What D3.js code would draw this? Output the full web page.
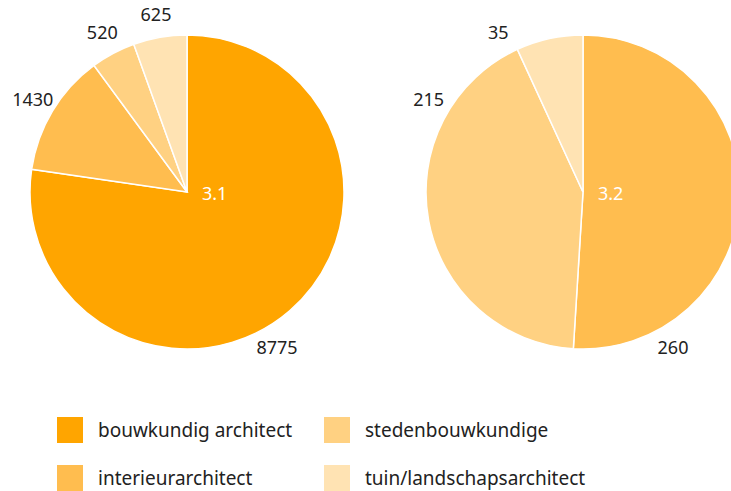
<!DOCTYPE html>
<html>
<head>
<meta charset="utf-8">
<script src="https://cdn.jsdelivr.net/npm/d3@7"></script>
<style>
  body { margin: 0; background: #fff; }
  svg { display: block; font-family: "Source Sans Pro", "Noto Sans", sans-serif; }
</style>
</head>
<body>
<svg></svg>
<script>
const width = 731
const height = 491

// categorieen en waarden
const categorieen = ["bouwkundig architect", "interieurarchitect", "stedenbouwkundige", "tuin/landschapsarchitect"]
const kleuren = ["#ffa500", "#ffbd4f", "#ffd182", "#ffe3b3"]
const pieNamen = ["3.1", "3.2"]
const waarden31 = [8775, 1430, 520, 625]
const waarden32 = [0, 260, 215, 35]

const svg = d3.select("svg")
    .attr("width", width)
    .attr("height", height)

const kleur = d3.scaleOrdinal()
    .domain(categorieen)
    .range(kleuren)

const radius = 157
const labelRadius = 180
const centra = d3.scalePoint()
    .domain(pieNamen)
    .range([187, 583])

const pie = d3.pie().sort(null).value(d => d.waarde)
const arc = d3.arc().innerRadius(0).outerRadius(radius)

const maakData = waarden => categorieen.map((c, i) => ({ categorie: c, waarde: waarden[i] }))
const pies = [maakData(waarden31), maakData(waarden32)].map(d => pie(d))

// labelhoeken: middens van de eerste pie, grootste segment onderaan gehouden
const labelHoeken = pies[0].map(d => Math.max((d.startAngle + d.endAngle) / 2, Math.PI * 5 / 6))

pies.forEach((slices, p) => {
    const g = svg.append("g")
        .attr("transform", `translate(${centra(pieNamen[p])},192)`)

    g.selectAll("path")
        .data(slices.filter(d => d.value > 0))
        .enter().append("path")
        .attr("d", arc)
        .attr("fill", d => kleur(d.data.categorie))
        .attr("stroke", "#fff")
        .attr("stroke-width", 1.5)

    g.selectAll("text.waarde")
        .data(slices.filter(d => d.value > 0))
        .enter().append("text")
        .attr("class", "waarde")
        .attr("x", (d, i) => labelRadius * Math.sin(labelHoeken[i]))
        .attr("y", (d, i) => -labelRadius * Math.cos(labelHoeken[i]))
        .attr("text-anchor", "middle")
        .attr("dy", "0.35em")
        .attr("font-size", 18)
        .attr("fill", "#222")
        .text(d => d.value)

    g.append("text")
        .attr("x", 15)
        .attr("y", 2)
        .attr("dy", "0.35em")
        .attr("font-size", 18)
        .attr("fill", "#fff")
        .text(pieNamen[p])
})

// legenda
const legenda = svg.append("g")
const item = legenda.selectAll("g")
    .data(categorieen)
    .enter().append("g")
    .attr("transform", (d, i) => `translate(${57 + Math.floor(i / 2) * 267},${417 + (i % 2) * 48})`)

item.append("rect")
    .attr("width", 26)
    .attr("height", 26)
    .attr("fill", d => kleur(d))

item.append("text")
    .attr("x", 41)
    .attr("y", 13)
    .attr("dy", "0.35em")
    .attr("font-size", 19)
    .attr("fill", "#222")
    .text(d => d)
</script>
</body>
</html>
